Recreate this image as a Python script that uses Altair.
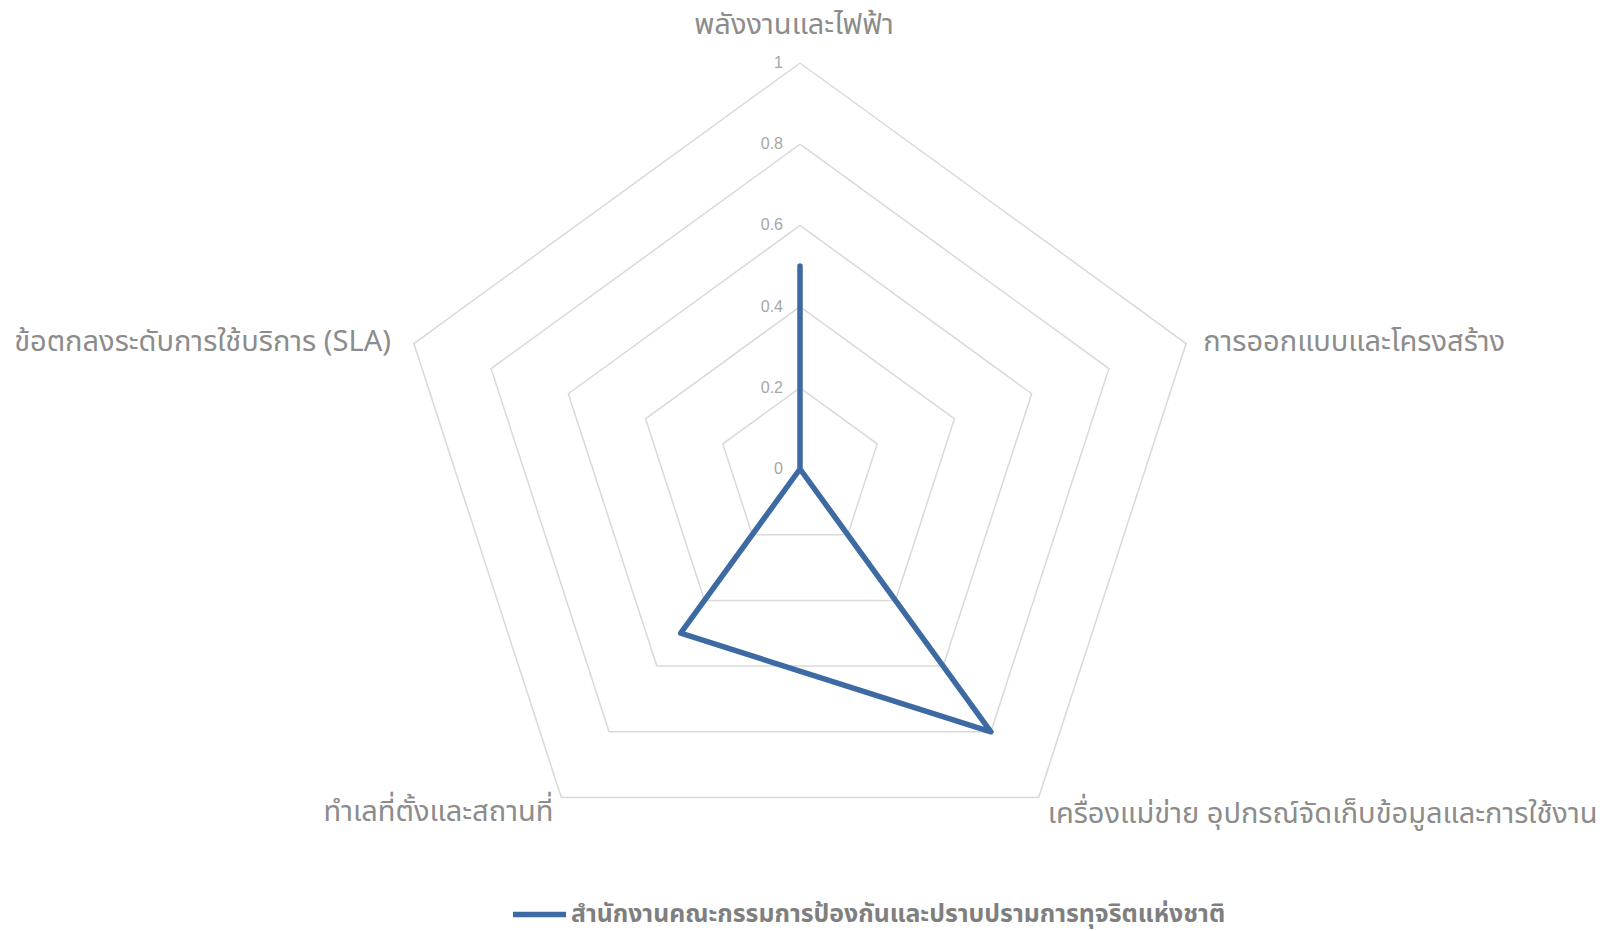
import altair as alt
import pandas as pd

# ---- data ----
categories = [
    "พลังงานและไฟฟ้า",
    "การออกแบบและโครงสร้าง",
    "เครื่องแม่ข่าย อุปกรณ์จัดเก็บข้อมูลและการใช้งาน",
    "ทำเลที่ตั้งและสถานที่",
    "ข้อตกลงระดับการใช้บริการ (SLA)",
]
values = [0.5, 0.0, 0.8, 0.5, 0.0]
series_name = "สำนักงานคณะกรรมการป้องกันและปราบปรามการทุจริตแห่งชาติ"
ring_levels = [0.2, 0.4, 0.6, 0.8, 1.0]
tick_values = [0, 0.2, 0.4, 0.6, 0.8, 1.0]
tick_labels = ["0", "0.2", "0.4", "0.6", "0.8", "1"]

N = len(categories)

# ---- tables built from the arrays ----
series_rows = []
for k in range(N + 1):
    i = k % N
    series_rows.append({"series": series_name, "idx": i, "order": k, "value": values[i]})
series_df = pd.DataFrame(series_rows)

ring_rows = []
for lv in ring_levels:
    for k in range(N + 1):
        ring_rows.append({"level": lv, "idx": k % N, "order": k, "value": lv})
ring_df = pd.DataFrame(ring_rows)

tick_df = pd.DataFrame({"value": tick_values, "label": tick_labels})
label_df = pd.DataFrame({"category": categories, "idx": list(range(N)), "value": [1.0] * N})

# ---- layout ----
W, H = 1591, 923
PX = 406.0             # pixels per unit radius
CX, CY = 792.0, 461.0  # centre inside the view
xdom = [-CX / PX, (W - CX) / PX]
ydom = [-(H - CY) / PX, CY / PX]
xs = alt.Scale(domain=xdom, nice=False, zero=False)
ys = alt.Scale(domain=ydom, nice=False, zero=False)

THAI = "'Noto Sans Thai', 'Noto Sans Thai UI', 'Noto Sans', sans-serif"
BLUE = "#3e6aa4"
GRID = "#d9d9d9"
LABEL = "#8c8c8c"


def polar(base, n=N):
    return base.transform_calculate(
        ang=f"datum.idx * 2 * PI / {n}"
    ).transform_calculate(
        px="datum.value * sin(datum.ang)",
        py="datum.value * cos(datum.ang)",
    )


rings = polar(alt.Chart(ring_df)).mark_line(
    color=GRID, strokeWidth=1.5
).encode(
    x=alt.X("px:Q", scale=xs, axis=None),
    y=alt.Y("py:Q", scale=ys, axis=None),
    detail="level:N",
    order="order:Q",
)

ticks = alt.Chart(tick_df).mark_text(
    align="right", baseline="middle", dx=-17, fontSize=16,
    font="Liberation Sans", color="#a6a6a6"
).encode(
    x=alt.X("zero:Q", scale=xs, axis=None),
    y=alt.Y("value:Q", scale=ys, axis=None),
    text="label:N",
).transform_calculate(zero="0")

line = polar(alt.Chart(series_df)).mark_line(
    strokeWidth=5.5, strokeCap="round", strokeJoin="round"
).encode(
    x=alt.X("px:Q", scale=xs, axis=None),
    y=alt.Y("py:Q", scale=ys, axis=None),
    order="order:Q",
    color=alt.Color(
        "series:N",
        scale=alt.Scale(range=[BLUE]),
        legend=alt.Legend(
            title=None, orient="none", legendX=502, legendY=877,
            symbolType="stroke", symbolSize=2809, symbolStrokeWidth=5.5,
            labelFontSize=24.8, labelFontWeight="bold", labelColor="#7f7f7f",
            labelFont=THAI, labelLimit=2000, labelOffset=2, padding=0,
        ),
    ),
)

label_specs = [
    (0, "center", -6, -38),
    (1, "left", 17, -2),
    (2, "left", 9, 17),
    (3, "right", -8, 15),
    (4, "right", -23, -2),
]
label_layers = []
for i, al, ddx, ddy in label_specs:
    label_layers.append(
        polar(alt.Chart(label_df)).transform_filter(f"datum.idx == {i}").mark_text(
            align=al, baseline="middle", dx=ddx, dy=ddy, fontSize=29,
            font=THAI, color=LABEL
        ).encode(
            x=alt.X("px:Q", scale=xs, axis=None),
            y=alt.Y("py:Q", scale=ys, axis=None),
            text="category:N",
        )
    )

chart = alt.layer(rings, ticks, line, *label_layers).properties(
    width=W, height=H, padding=0,
    autosize=alt.AutoSizeParams(type="none"),
).configure_view(stroke=None)

chart.save("out.html", embed_options={"renderer": "svg", "actions": False})
